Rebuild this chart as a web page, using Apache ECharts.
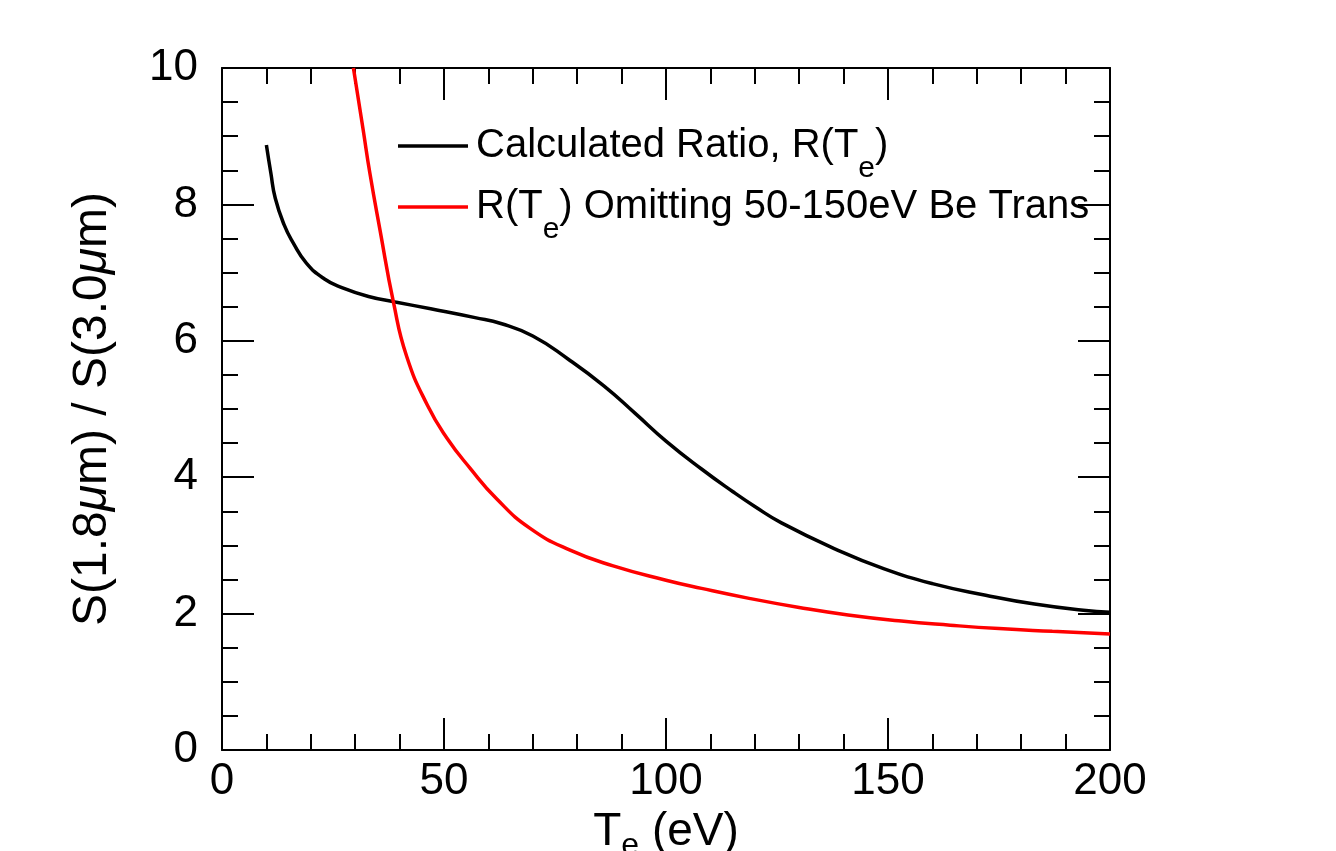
<!DOCTYPE html>
<html>
<head>
<meta charset="utf-8">
<script src="https://cdn.jsdelivr.net/npm/echarts@6/dist/echarts.min.js"></script>
<style>
  html, body { margin: 0; padding: 0; background: #fff; }
  #chart { width: 1336px; height: 851px; }
</style>
</head>
<body>
<div id="chart"></div>
<script>
// ---- Data ----
const xTicks = [0, 50, 100, 150, 200];
const yTicks = [0, 2, 4, 6, 8, 10];

const calcX = [10, 11, 12, 14, 16, 19, 23, 27, 33, 39, 47, 57, 63, 70, 78, 86, 93, 100, 108, 115, 120, 126, 138, 149, 160, 172, 183, 194, 200];
const calcY = [8.87, 8.46, 8.09, 7.70, 7.44, 7.14, 6.91, 6.78, 6.65, 6.57, 6.47, 6.34, 6.25, 6.07, 5.73, 5.34, 4.94, 4.53, 4.12, 3.79, 3.57, 3.33, 2.95, 2.66, 2.44, 2.27, 2.14, 2.05, 2.02];

const omitX = [29.6, 31.8, 33.3, 35.6, 38.6, 41.6, 46.3, 50.6, 55.9, 61.9, 69.4, 78.4, 88.1, 100, 108, 119, 130, 141, 153, 164, 175, 187, 200];
const omitY = [10.0, 9.09, 8.46, 7.62, 6.57, 5.77, 5.05, 4.58, 4.13, 3.68, 3.25, 2.93, 2.70, 2.49, 2.37, 2.22, 2.09, 1.98, 1.89, 1.83, 1.78, 1.74, 1.70];

const seriesNames = ['Calculated Ratio, R(Te)', 'R(Te) Omitting 50-150eV Be Trans'];
const legendLabels = ['Calculated Ratio, R(T{sub|e})', 'R(T{sub|e}) Omitting 50-150eV Be Trans'];

const FONT = '"Liberation Sans", Arial, Helvetica, sans-serif';

function pairs(xs, ys) { return xs.map((x, i) => [x, ys[i]]); }

const tickStyle = { color: '#000', width: 2 };

function makeX(pos, showLabel, name) {
  return {
    type: 'value', position: pos, min: xTicks[0], max: xTicks[xTicks.length - 1],
    interval: xTicks[1] - xTicks[0],
    axisLine: { show: true, onZero: false, lineStyle: { color: '#000', width: 2 } },
    axisTick: { show: true, inside: true, length: 32, lineStyle: tickStyle },
    minorTick: { show: true, splitNumber: 5, length: 16, lineStyle: tickStyle },
    splitLine: { show: false }, minorSplitLine: { show: false },
    axisLabel: { show: showLabel, color: '#000', fontSize: 44, fontFamily: FONT, margin: 10 },
    name: name || '',
    nameLocation: 'middle', nameGap: 52,
    nameTextStyle: {
      color: '#000', fontFamily: FONT, fontSize: 46,
      rich: {
        t: { fontSize: 46, fontFamily: FONT, color: '#000' },
        sub: { fontSize: 32, fontFamily: FONT, color: '#000', verticalAlign: 'bottom', lineHeight: 60 }
      }
    }
  };
}

function makeY(pos, showLabel, name) {
  return {
    type: 'value', position: pos, min: yTicks[0], max: yTicks[yTicks.length - 1],
    interval: yTicks[1] - yTicks[0],
    axisLine: { show: true, onZero: false, lineStyle: { color: '#000', width: 2 } },
    axisTick: { show: true, inside: true, length: 32, lineStyle: tickStyle },
    minorTick: { show: true, splitNumber: 4, length: 16, lineStyle: tickStyle },
    splitLine: { show: false }, minorSplitLine: { show: false },
    axisLabel: { show: showLabel, color: '#000', fontSize: 44, fontFamily: FONT, margin: 24 },
    name: name || '',
    nameLocation: 'middle', nameGap: 105, nameRotate: 90,
    nameTextStyle: {
      color: '#000', fontFamily: FONT, fontSize: 48,
      rich: {
        t: { fontSize: 48, fontFamily: FONT, color: '#000' },
        mu: { fontSize: 48, fontFamily: FONT, fontStyle: 'italic', color: '#000' }
      }
    }
  };
}

const chart = echarts.init(document.getElementById('chart'), null, { renderer: 'canvas' });
chart.setOption({
  backgroundColor: '#fff',
  animation: false,
  grid: { left: 222, right: 226, top: 68, bottom: 101, containLabel: false, outerBoundsMode: 'none' },
  legend: {
    orient: 'vertical', left: 393, top: 117,
    itemWidth: 70, itemHeight: 3.5, itemGap: -1,
    selectedMode: false,
    data: seriesNames.map(n => ({ name: n, icon: 'rect' })),
    formatter: function (n) { return legendLabels[seriesNames.indexOf(n)]; },
    textStyle: {
      color: '#000', fontSize: 40, fontFamily: FONT, lineHeight: 48, padding: [0, 0, 0, 3],
      rich: {
        sub: { fontSize: 30, fontFamily: FONT, color: '#000', verticalAlign: 'bottom', lineHeight: 38, padding: [0, 0, -14, 0] }
      }
    }
  },
  xAxis: [
    makeX('bottom', true, '{t|T}{sub|e}{t| (eV)}'),
    makeX('top', false)
  ],
  yAxis: [
    makeY('left', true, 'S(1.8{mu|μ}m) / S(3.0{mu|μ}m)'),
    makeY('right', false)
  ],
  series: [
    {
      name: seriesNames[0], type: 'line', xAxisIndex: 0, yAxisIndex: 0,
      data: pairs(calcX, calcY), symbol: 'none', smooth: 0.5,
      lineStyle: { color: '#000', width: 3.5 }, itemStyle: { color: '#000' }, clip: true
    },
    {
      name: seriesNames[1], type: 'line', xAxisIndex: 0, yAxisIndex: 0,
      data: pairs(omitX, omitY), symbol: 'none', smooth: 0.5,
      lineStyle: { color: '#ff0000', width: 3.5 }, itemStyle: { color: '#ff0000' }, clip: true
    }
  ]
});
</script>
</body>
</html>
